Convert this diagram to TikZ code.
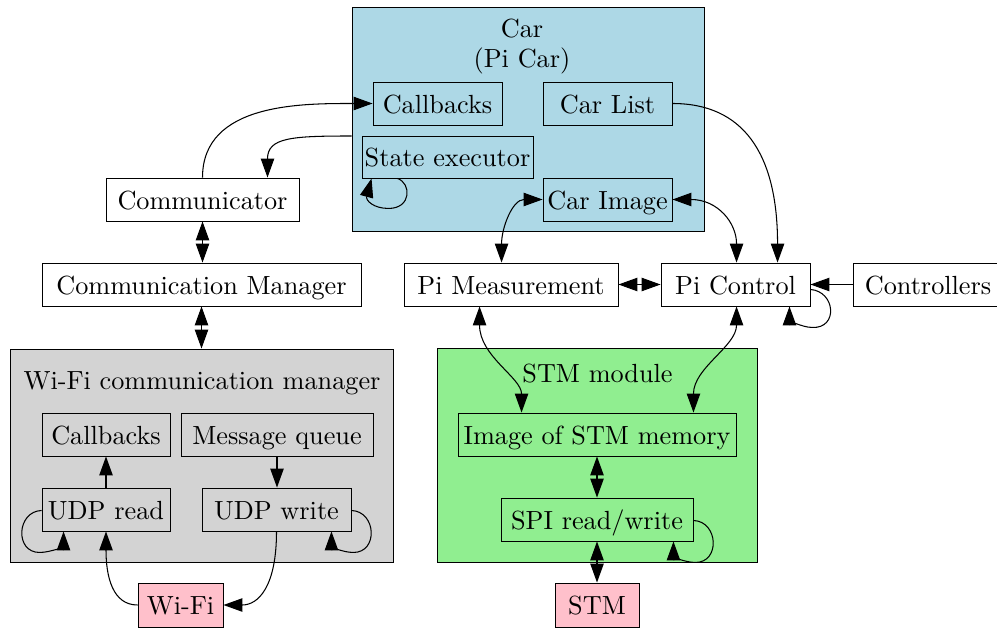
\documentclass[tikz,border=0pt]{standalone}
\usetikzlibrary{arrows.meta,calc}
\newlength\pxl \setlength\pxl{0.381pt}
\definecolor{carblue}{HTML}{ADD8E6}
\definecolor{wifigray}{HTML}{D3D3D3}
\definecolor{stmgreen}{HTML}{90EE90}
\definecolor{hwpink}{HTML}{FFC0CB}
\begin{document}
\begin{tikzpicture}[x=0.381pt,y=-0.381pt,
  >={Triangle[length=7.2pt,width=5.1pt]},
  bx/.style={draw, line width=0.35pt, inner sep=0pt, text height=7.6pt, text depth=0pt, minimum height=43\pxl},
  grp/.style={draw, line width=0.35pt, inner sep=0pt},
  grplabel/.style={anchor=base, inner sep=0pt},
  hw/.style={bx, fill=hwpink, minimum height=44\pxl}]
\useasboundingbox (0,0) rectangle (997,628);

% clusters
\node[grp, fill=carblue, minimum width=352\pxl, minimum height=224\pxl] (car) at (528,119) {};
\node[grp, fill=wifigray, minimum width=383\pxl, minimum height=213\pxl] (wific) at (201.5,455.5) {};
\node[grp, fill=stmgreen, minimum width=320\pxl, minimum height=214\pxl] (stmc) at (597,455) {};
\node[grplabel] (carlbl) at (522,38) {Car};
\node[grplabel] (carlbl2) at (522,68) {(Pi Car)};
\node[grplabel] (wifilbl) at (202,389) {Wi-Fi communication manager};
\node[grplabel] (stmlbl) at (597.5,382) {STM module};

% car internals
\node[bx, minimum width=129\pxl] (cbcar) at (437.5,103.5) {Callbacks};
\node[bx, minimum width=129\pxl] (carlist) at (607.5,103.5) {Car List};
\node[bx, minimum width=171\pxl, minimum height=42\pxl] (state) at (447.5,157) {State executor};
\node[bx, minimum width=129\pxl] (carimg) at (607.5,199.5) {Car Image};

% free nodes
\node[bx, minimum width=193\pxl] (comm) at (202.5,199.5) {Communicator};
\node[bx, minimum width=319\pxl] (cmgr) at (201.5,284.5) {Communication Manager};
\node[bx, minimum width=214\pxl] (pm) at (511,284.5) {Pi Measurement};
\node[bx, minimum width=149\pxl] (pc) at (735.5,284.5) {Pi Control};
\node[bx, minimum width=150\pxl] (ctrl) at (928,284.5) {Controllers};

% wifi internals
\node[bx, minimum width=128\pxl] (cbwifi) at (106,434.5) {Callbacks};
\node[bx, minimum width=192\pxl] (mq) at (277,434.5) {Message queue};
\node[bx, minimum width=128\pxl] (udpr) at (106,509.5) {UDP read};
\node[bx, minimum width=149\pxl] (udpw) at (276.5,509.5) {UDP write};
\node[hw, minimum width=85\pxl] (wifi) at (180.5,605) {Wi-Fi};

% stm internals
\node[bx, minimum width=278\pxl] (imgstm) at (597,434.5) {Image of STM memory};
\node[bx, minimum width=192\pxl] (spi) at (597,519.5) {SPI read/write};
\node[hw, minimum width=84\pxl] (stm) at (597,605) {STM};

% connectors
\draw[->] (comm.north) .. controls +(0,-75) and +(-70,0) .. (cbcar.west);
\draw[->] ($(car.west)+(0,17)$) .. controls +(-60,0) and +(0,-40) .. ($(comm.north)+(65,0)$);
\draw[->, shift={(state.south west)}] (36,0) .. controls (50,5) and (50,30) .. (27,30) .. controls (12,30) and (4,22) .. (10,0);

\draw[<->] (carimg.west) .. controls +(-30,0) and +(0,-35) .. ($(pm.north west)+(98,0)$);
\draw[<->] (carimg.east) .. controls +(45,0) and +(0,-40) .. ($(pc.north west)+(76,0)$);
\draw[->] (carlist.east) .. controls +(70,0) and +(0,-110) .. ($(pc.north west)+(117,0)$);
\draw[<->] (pm.east) -- (pc.west);
\draw[->] (ctrl.west) -- (pc.east);
\draw[->, shift={(pc.south east)}] (0,-17) .. controls (25,-15) and (28,22) .. (2,21) .. controls (-10,21) and (-21,12) .. (-21,0);

\draw[<->] (comm.south) -- (comm.south |- cmgr.north);
\draw[<->] (cmgr.south) -- (cmgr.south |- wific.north);

\draw[<->] ($(pm.south west)+(76,0)$) .. controls +(0,50) and +(0,-35) .. ($(imgstm.north west)+(64,0)$);
\draw[<->] ($(pc.south west)+(76,0)$) .. controls +(0,40) and +(0,-45) .. ($(imgstm.north east)+(-43,0)$);
\draw[<->] (imgstm.south) -- (spi.north);
\draw[<->] (spi.south) -- (stm.north);
\draw[->, shift={(spi.south east)}] (0,-21) .. controls (25,-20) and (27,21) .. (2,21) .. controls (-10,21) and (-20,14) .. (-20,0);

\draw[->] (udpr.north) -- (cbwifi.south);
\draw[->] (mq.south) -- (mq.south |- udpw.north);
\draw[->, shift={(udpr.south west)}] (0,-21) .. controls (-25,-20) and (-27,21) .. (-2,21) .. controls (10,21) and (22,14) .. (22,0);
\draw[->, shift={(udpw.south east)}] (0,-21) .. controls (25,-20) and (27,21) .. (2,21) .. controls (-10,21) and (-20,14) .. (-20,0);
\draw[->] (wifi.west) .. controls +(-25,0) and +(0,45) .. (udpr.south);
\draw[->] (udpw.south) .. controls +(0,55) and +(35,0) .. (wifi.east);
\end{tikzpicture}
\end{document}
